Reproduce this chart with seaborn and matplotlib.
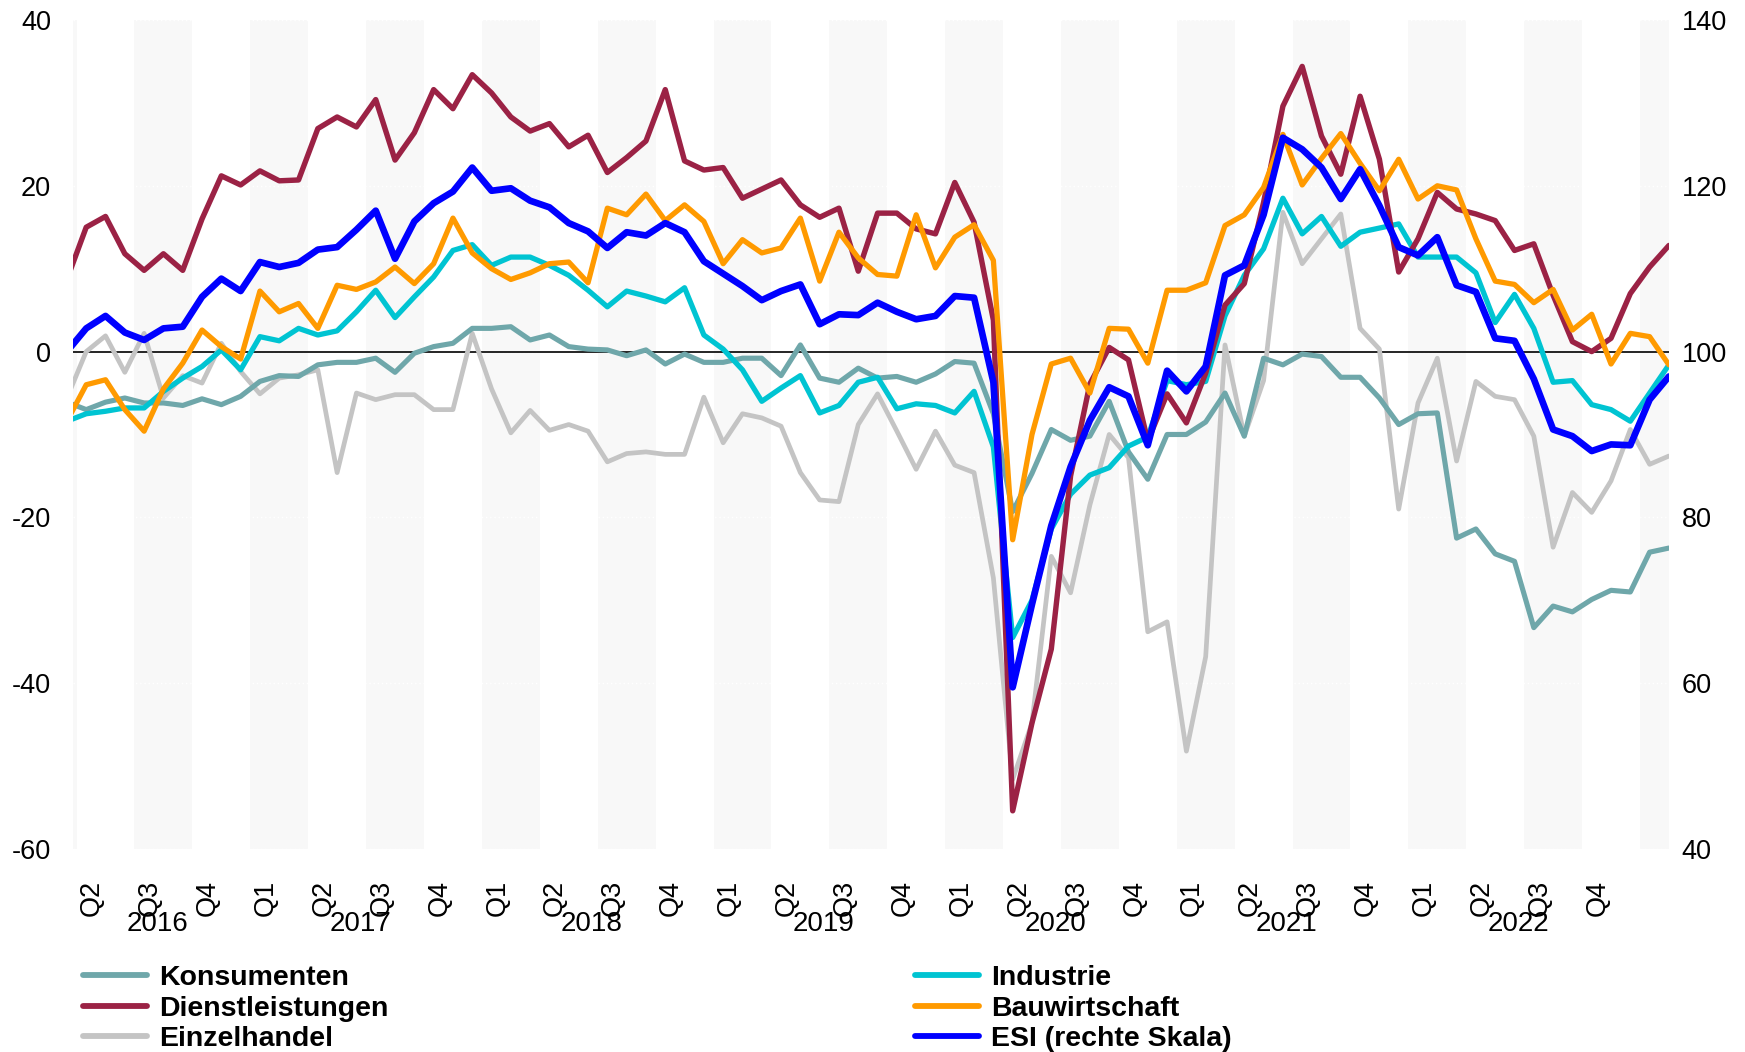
import matplotlib
matplotlib.use("Agg")
import matplotlib.pyplot as plt
from matplotlib.lines import Line2D
import seaborn as sns
import pandas as pd
import numpy as np

# monthly sentiment indicators, Mar 2016 .. Feb 2023 (balances, ESI on index scale)
months = pd.period_range("2016-03", "2023-02", freq="M")

konsumenten = [
    -6.1, -7.0, -6.1, -5.6, -6.2, -6.2, -6.5, -5.7, -6.4, -5.4,
    -3.6, -2.9, -3.0, -1.6, -1.3, -1.3, -0.8, -2.5, -0.2, 0.6,
    1.0, 2.8, 2.8, 3.0, 1.4, 2.0, 0.6, 0.3, 0.2, -0.5,
    0.2, -1.5, -0.3, -1.3, -1.3, -0.8, -0.8, -2.9, 0.8, -3.2,
    -3.7, -2.0, -3.2, -3.0, -3.7, -2.7, -1.2, -1.4, -7.5, -19.3,
    -14.7, -9.4, -10.7, -10.2, -6.0, -12.1, -15.4, -10.0, -10.0, -8.5,
    -5.0, -10.2, -0.8, -1.6, -0.3, -0.6, -3.1, -3.1, -5.6, -8.8,
    -7.5, -7.4, -22.5, -21.4, -24.4, -25.3, -33.3, -30.7, -31.4, -29.9,
    -28.8, -29.0, -24.2, -23.7,
]
dienstleistungen = [
    8.7, 15.0, 16.3, 11.8, 9.8, 11.8, 9.8, 16.0, 21.2, 20.1,
    21.8, 20.6, 20.7, 26.9, 28.3, 27.1, 30.4, 23.1, 26.4, 31.6,
    29.3, 33.4, 31.2, 28.3, 26.6, 27.5, 24.7, 26.1, 21.6, 23.4,
    25.4, 31.6, 23.0, 21.9, 22.2, 18.5, 19.6, 20.7, 17.7, 16.2,
    17.3, 9.7, 16.7, 16.7, 14.8, 14.2, 20.4, 15.6, 3.8, -55.4,
    -44.8, -35.9, -15.0, -3.9, 0.5, -1.0, -10.8, -5.1, -8.6, -2.6,
    5.6, 8.2, 18.0, 29.6, 34.4, 26.0, 21.4, 30.8, 23.2, 9.6,
    13.6, 19.2, 17.2, 16.6, 15.8, 12.2, 13.0, 6.8, 1.2, 0.0,
    1.6, 7.0, 10.2, 12.8,
]
einzelhandel = [
    -5.6, 0.0, 1.9, -2.5, 2.2, -5.6, -2.9, -3.8, 1.0, -2.4,
    -5.1, -3.2, -2.8, -2.2, -14.6, -5.0, -5.8, -5.2, -5.2, -7.0,
    -7.0, 2.2, -4.5, -9.8, -7.1, -9.5, -8.8, -9.6, -13.3, -12.3,
    -12.1, -12.4, -12.4, -5.5, -11.0, -7.5, -8.0, -9.0, -14.6, -17.9,
    -18.1, -8.8, -5.1, -9.6, -14.2, -9.6, -13.7, -14.6, -27.3, -51.6,
    -44.8, -24.7, -29.1, -18.5, -10.0, -12.8, -33.8, -32.6, -48.2, -36.8,
    0.8, -10.2, -3.5, 16.8, 10.6, 13.6, 16.6, 2.8, 0.3, -19.0,
    -6.2, -0.8, -13.2, -3.6, -5.4, -5.8, -10.2, -23.6, -17.0, -19.4,
    -15.6, -9.4, -13.6, -12.6,
]
industrie = [
    -8.4, -7.5, -7.2, -6.8, -6.8, -4.8, -3.2, -1.8, 0.2, -2.2,
    1.8, 1.3, 2.8, 2.0, 2.5, 4.8, 7.4, 4.1, 6.6, 9.0,
    12.2, 12.9, 10.4, 11.4, 11.4, 10.4, 9.2, 7.4, 5.4, 7.3,
    6.7, 6.0, 7.7, 2.0, 0.3, -2.2, -6.0, -4.4, -2.9, -7.4,
    -6.5, -3.7, -3.1, -6.9, -6.3, -6.5, -7.4, -4.8, -11.5, -34.5,
    -30.0, -21.4, -17.2, -14.9, -14.0, -11.4, -10.3, -3.5, -4.0, -3.6,
    4.3, 9.2, 12.4, 18.5, 14.2, 16.3, 12.7, 14.4, 14.9, 15.4,
    11.4, 11.4, 11.4, 9.5, 3.5, 6.9, 2.8, -3.7, -3.5, -6.4,
    -7.0, -8.4, -5.0, -1.6,
]
bauwirtschaft = [
    -8.4, -4.0, -3.4, -7.0, -9.6, -4.5, -1.4, 2.6, 0.6, -0.9,
    7.3, 4.8, 5.8, 2.8, 8.0, 7.5, 8.4, 10.2, 8.2, 10.6,
    16.1, 11.9, 10.0, 8.7, 9.5, 10.6, 10.8, 8.3, 17.3, 16.5,
    19.0, 15.8, 17.7, 15.7, 10.6, 13.5, 11.9, 12.5, 16.1, 8.5,
    14.4, 11.3, 9.3, 9.1, 16.5, 10.1, 13.8, 15.3, 11.0, -22.7,
    -10.0, -1.5, -0.8, -5.0, 2.8, 2.7, -1.4, 7.4, 7.4, 8.3,
    15.2, 16.5, 19.8, 26.2, 20.1, 23.3, 26.3, 22.7, 19.4, 23.2,
    18.4, 20.0, 19.5, 13.6, 8.5, 8.1, 5.9, 7.5, 2.6, 4.5,
    -1.5, 2.2, 1.8, -1.6,
]
esi = [
    100.0, 102.8, 104.3, 102.3, 101.4, 102.8, 103.0, 106.6, 108.8, 107.3,
    110.8, 110.2, 110.7, 112.3, 112.6, 114.7, 117.0, 111.2, 115.7, 117.9,
    119.3, 122.2, 119.4, 119.7, 118.2, 117.4, 115.5, 114.5, 112.5, 114.4,
    114.0, 115.5, 114.4, 110.9, 109.4, 107.9, 106.2, 107.3, 108.1, 103.3,
    104.5, 104.4, 105.9, 104.8, 103.9, 104.3, 106.7, 106.5, 96.3, 59.5,
    69.5, 79.0, 86.1, 91.7, 95.7, 94.6, 88.7, 97.7, 95.2, 98.2,
    109.2, 110.4, 116.5, 125.8, 124.4, 122.2, 118.4, 122.0, 117.6, 112.6,
    111.6, 113.8, 108.0, 107.2, 101.6, 101.3, 96.7, 90.6, 89.8, 88.0,
    88.8, 88.7, 94.2, 97.0,
]

left_series = [
    ("Einzelhandel", einzelhandel, "#c4c4c4", 3.4),
    ("Konsumenten", konsumenten, "#6fa7aa", 3.7),
    ("Industrie", industrie, "#00c4d2", 3.8),
    ("Dienstleistungen", dienstleistungen, "#9b2245", 3.9),
    ("Bauwirtschaft", bauwirtschaft, "#ff9a00", 3.8),
]
legend_order = ["Konsumenten", "Dienstleistungen", "Einzelhandel", "Industrie", "Bauwirtschaft"]

sns.set_style("white")
plt.rcParams["font.family"] = ["Liberation Sans", "DejaVu Sans"]
plt.rcParams["axes.unicode_minus"] = False
plt.rcParams["text.color"] = "black"
plt.rcParams["ytick.color"] = "black"

df = pd.DataFrame({"month": months, "year": months.year, "quarter": months.quarter})
df["x"] = np.arange(len(df))

fig = plt.figure(figsize=(17.45, 10.52), dpi=100)
ax = fig.add_axes([0.042, 0.193, 0.9144, 0.788])
ax2 = ax.twinx()

# shaded bands for Q1 and Q3
for (yr, qt), grp in df.groupby(["year", "quarter"]):
    if qt in (1, 3):
        ax.axvspan(grp["x"].min() - 0.5, grp["x"].max() + 0.5, color="#f8f8f8", lw=0, zorder=0)

ax.axhline(0, color="black", lw=1.2, zorder=1.8)

colors = {}
for name, vals, col, lw in left_series:
    sns.lineplot(x=df["x"], y=vals, ax=ax, color=col, lw=lw, legend=False, zorder=2)
    colors[name] = col
sns.lineplot(x=df["x"], y=esi, ax=ax2, color="#0000ff", lw=4.8, legend=False)

ax.set_xlim(0.33, 83)
ax.set_ylim(-60, 40)
ax2.set_ylim(40, 140)
ax.set_yticks(np.arange(-60, 41, 20))
ax2.set_yticks(np.arange(40, 141, 20))
ax.grid(axis="y", color="white", linestyle=(0, (1, 2)), lw=1.0)
ax.grid(axis="x", visible=False)
ax.set_xticks([])
ax.set_xlabel("")
ax.set_ylabel("")
ax2.set_ylabel("")
ax.tick_params(axis="y", length=0, pad=16, labelsize=19.5, labelcolor="black")
ax2.tick_params(axis="y", length=0, pad=9, labelsize=19.5, labelcolor="black")
for a in (ax, ax2):
    for s in a.spines.values():
        s.set_visible(False)

# quarter and year labels below the axis
trans = ax.get_xaxis_transform()
for (yr, qt), grp in df.groupby(["year", "quarter"]):
    if len(grp) == 3:
        ax.text(grp["x"].min() + 0.3, -0.059, f"Q{qt}", transform=trans, rotation=90,
                ha="center", va="center", fontsize=19.5)
for yr, grp in df.groupby("year"):
    full = grp.groupby("quarter").filter(lambda g: len(g) == 3)
    if len(full):
        ax.text(full["x"].mean() - 0.3, -0.091, str(yr), transform=trans,
                ha="center", va="center", fontsize=20)

handles = [Line2D([], [], color=colors[n], lw=4.2) for n in legend_order]
handles.append(Line2D([], [], color="#0000ff", lw=4.2))
labels = legend_order + ["ESI (rechte Skala)"]
fig.legend(handles, labels, loc="upper left", bbox_to_anchor=(0.0476, 0.0830), ncol=2,
           frameon=False, borderpad=0, borderaxespad=0, handlelength=2.25, handletextpad=0.42,
           columnspacing=18.5, labelspacing=0.17, prop={"weight": "bold", "size": 20.5})

fig.savefig("out.png", dpi=100)
